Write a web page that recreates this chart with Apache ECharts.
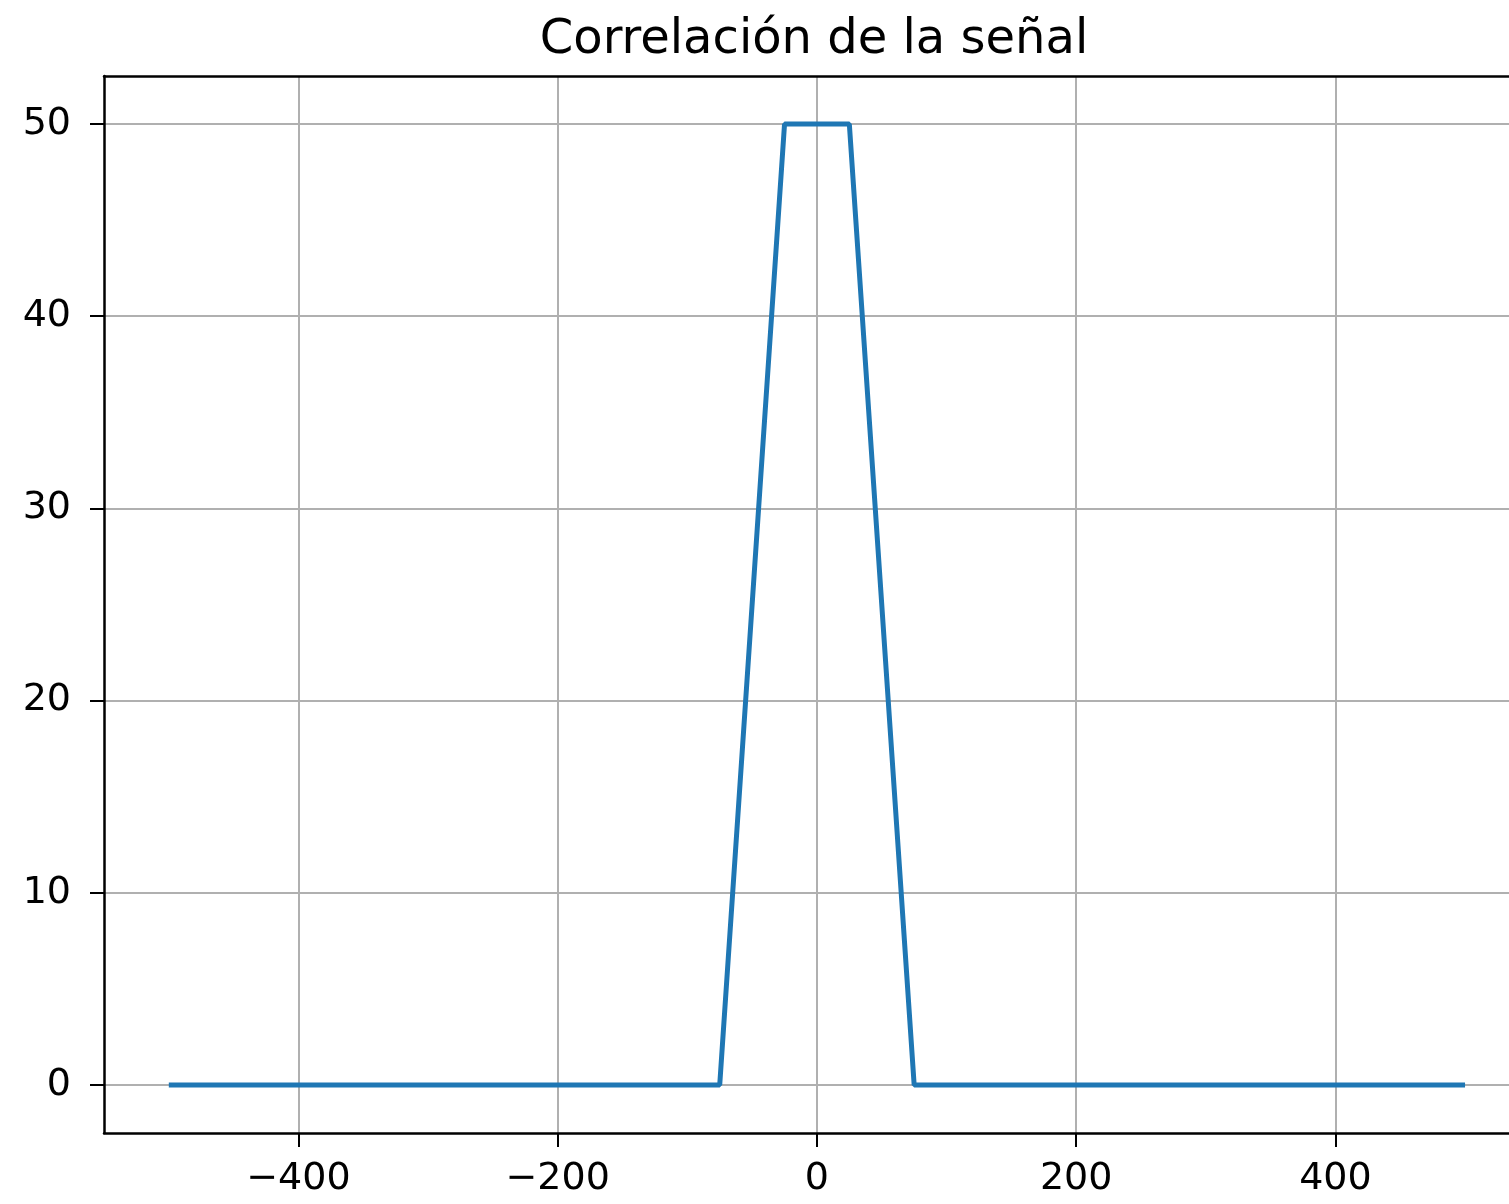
<!DOCTYPE html>
<html>
<head>
<meta charset="utf-8">
<script src="https://cdn.jsdelivr.net/npm/echarts@6/dist/echarts.min.js"></script>
<style>
html,body{margin:0;padding:0;background:#fff;}
#chart{width:1509px;height:1204px;}
</style>
</head>
<body>
<div id="chart"></div>
<script>
const titleText = 'Correlación de la señal';
const lagValues = [-500, -75, -25, 25, 75, 500];
const corrValues = [0, 0, 50, 50, 0, 0];
const xTicks = [-400, -200, 0, 200, 400];
const yTicks = [0, 10, 20, 30, 40, 50];

const seriesData = lagValues.map((x, i) => [x, corrValues[i]]);
const FONT = 'DejaVu Sans';
// visible x-range: the reference is cropped on its right side
const X_MIN = -550, X_MAX = 533.9;

const chart = echarts.init(document.getElementById('chart'), null, {renderer: 'canvas'});
chart.setOption({
  animation: false,
  backgroundColor: '#ffffff',
  title: {
    text: titleText,
    left: 814,
    top: 17,
    padding: 0,
    textAlign: 'center',
    textStyle: {fontFamily: FONT, fontSize: 48, fontWeight: 'normal', color: '#000'}
  },
  grid: {left: 104, top: 76, right: 0, bottom: 71},
  xAxis: [{
    type: 'value', min: X_MIN, max: X_MAX, position: 'bottom',
    axisLine: {show: true, onZero: false, lineStyle: {color: '#000', width: 2.5}},
    axisTick: {show: true, customValues: xTicks, length: 14, lineStyle: {color: '#000', width: 2}},
    axisLabel: {customValues: xTicks, margin: 27, fontFamily: FONT, fontSize: 38, color: '#000',
      formatter: v => (v < 0 ? '\u2212' + Math.abs(v) : String(v))},
    splitLine: {show: true, lineStyle: {color: '#b0b0b0', width: 2}}
  }, {
    type: 'value', min: X_MIN, max: X_MAX, position: 'top',
    axisLine: {show: true, onZero: false, lineStyle: {color: '#000', width: 2.5}},
    axisTick: {show: false}, axisLabel: {show: false}, splitLine: {show: false}
  }],
  yAxis: {
    type: 'value', min: -2.5, max: 52.5,
    axisLine: {show: true, onZero: false, lineStyle: {color: '#000', width: 2.5}},
    axisTick: {show: true, customValues: yTicks, length: 14, lineStyle: {color: '#000', width: 2}},
    axisLabel: {customValues: yTicks, margin: 33, fontFamily: FONT, fontSize: 38, color: '#000'},
    splitLine: {show: true, lineStyle: {color: '#b0b0b0', width: 2}}
  },
  series: [{
    type: 'line',
    xAxisIndex: 0,
    data: seriesData,
    showSymbol: false,
    lineStyle: {color: '#1f77b4', width: 5},
    itemStyle: {color: '#1f77b4'}
  }]
});
</script>
</body>
</html>
